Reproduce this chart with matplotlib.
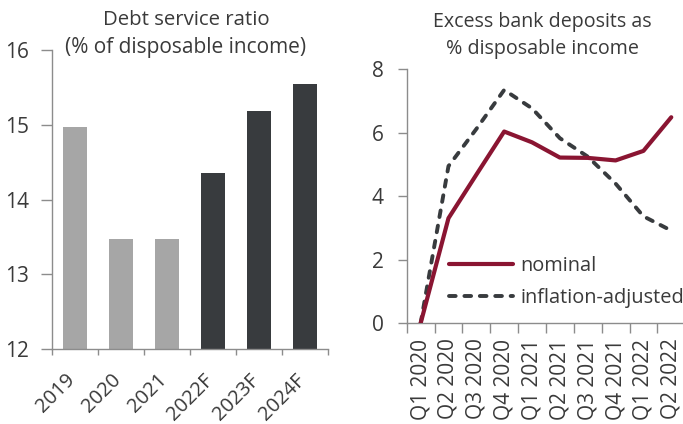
import matplotlib
matplotlib.use("Agg")
import matplotlib.pyplot as plt
import numpy as np

plt.rcParams['font.family'] = ['Open Sans', 'DejaVu Sans']
plt.rcParams['lines.scale_dashes'] = False

# ---- data ----
dsr_years = ["2019", "2020", "2021", "2022F", "2023F", "2024F"]
dsr_values = [14.97, 13.47, 13.48, 14.35, 15.18, 15.54]
dsr_forecast = [False, False, False, True, True, True]

quarters = ["Q1 2020", "Q2 2020", "Q3 2020", "Q4 2020", "Q1 2021",
            "Q2 2021", "Q3 2021", "Q4 2021", "Q1 2022", "Q2 2022"]
nominal = [0.0, 3.31, 4.68, 6.04, 5.70, 5.22, 5.21, 5.13, 5.43, 6.49]
inflation_adjusted = [0.0, 4.95, 6.12, 7.35, 6.77, 5.83, 5.25, 4.40, 3.37, 2.92]

W, H = 683, 424
TEXT = '#3a3a3a'
SPINE = '#8c8c8c'
LIGHT = '#a6a6a6'
DARK = '#383b3e'
RED = '#8a1532'

fig = plt.figure(figsize=(W / 100, H / 100), dpi=100)

def px_axes(left, top, right, bottom):
    return fig.add_axes([left / W, 1 - bottom / H, (right - left) / W, (bottom - top) / H])

# ---- left: bars ----
ax1 = px_axes(52.3, 50, 328.3, 349.3)
x = np.arange(len(dsr_years))
colors = [DARK if f else LIGHT for f in dsr_forecast]
ax1.bar(x, dsr_values, width=0.52, color=colors, zorder=2)
ax1.set_xlim(-0.5, len(dsr_years) - 0.5)
ax1.set_ylim(12, 16)
ax1.set_yticks([12, 13, 14, 15, 16])
ax1.set_xticks(np.arange(-0.5, len(dsr_years), 1.0), minor=False)
ax1.set_xticklabels([])
# label anchors nudged left so the rotated text sits under each bar
ax1.set_xticks(x - 0.22, minor=True)
ax1.set_xticklabels(dsr_years, minor=True, rotation=45, ha='right', va='top',
                    rotation_mode='anchor', fontsize=14.5, color=TEXT)
ax1.tick_params(axis='x', which='minor', length=0, pad=15)
ax1.tick_params(axis='x', which='major', length=4.5, width=1, color=SPINE)
ax1.tick_params(axis='y', length=8, width=1, color=SPINE, labelsize=15,
                labelcolor=TEXT, pad=9)
for s in ['top', 'right']:
    ax1.spines[s].set_visible(False)
for s in ['left', 'bottom']:
    ax1.spines[s].set_color(SPINE)
    ax1.spines[s].set_linewidth(1)

fig.text(186 / W, 1 - 20 / H, "Debt service ratio", ha='center', va='center',
         fontsize=14.7, color=TEXT)
fig.text(186 / W, 1 - 48 / H, "(% of disposable income)", ha='center', va='center',
         fontsize=15.0, color=TEXT)

# ---- right: lines ----
ax2 = px_axes(406.7, 69.3, 406.7 + 278.5, 323.3)
xq = np.arange(len(quarters))
ax2.plot(xq, nominal, color=RED, lw=3.0, solid_capstyle='round',
         solid_joinstyle='round', label='nominal', zorder=3)
ax2.plot(xq, inflation_adjusted, color=DARK, lw=2.8, dashes=(4.8, 6.3),
         dash_capstyle='round', dash_joinstyle='round',
         label='inflation-adjusted', zorder=2)
ax2.set_xlim(-0.5, len(quarters) - 0.5)
ax2.set_ylim(0, 8)
ax2.set_yticks([0, 2, 4, 6, 8])
ax2.set_xticks(np.arange(-0.5, len(quarters), 1.0))
ax2.set_xticklabels([])
ax2.set_xticks(xq, minor=True)
ax2.set_xticklabels(quarters, minor=True, rotation=90, ha='center', va='top',
                    fontsize=15, color=TEXT)
ax2.tick_params(axis='x', which='minor', length=0, pad=11)
ax2.tick_params(axis='x', which='major', length=7, width=1, color=SPINE)
ax2.tick_params(axis='y', length=6.5, width=1, color=SPINE, labelsize=15,
                labelcolor=TEXT, pad=10)
for s in ['top', 'right']:
    ax2.spines[s].set_visible(False)
for s in ['left', 'bottom']:
    ax2.spines[s].set_color(SPINE)
    ax2.spines[s].set_linewidth(1)

leg = ax2.legend(loc='upper left',
                 bbox_to_anchor=((449 - 406.7) / 278.5, (323.3 - 256) / 254),
                 frameon=False, fontsize=14.4, handlelength=3.2, handletextpad=0.35,
                 labelspacing=0.62, borderaxespad=0, borderpad=0)
for t in leg.get_texts():
    t.set_color(TEXT)

fig.text(542.5 / W, 1 - 21.7 / H, "Excess bank deposits as", ha='center', va='center',
         fontsize=14.1, color=TEXT)
fig.text(542.5 / W, 1 - 49.3 / H, "% disposable income", ha='center', va='center',
         fontsize=14.2, color=TEXT)

fig.savefig("out.png", dpi=100)
